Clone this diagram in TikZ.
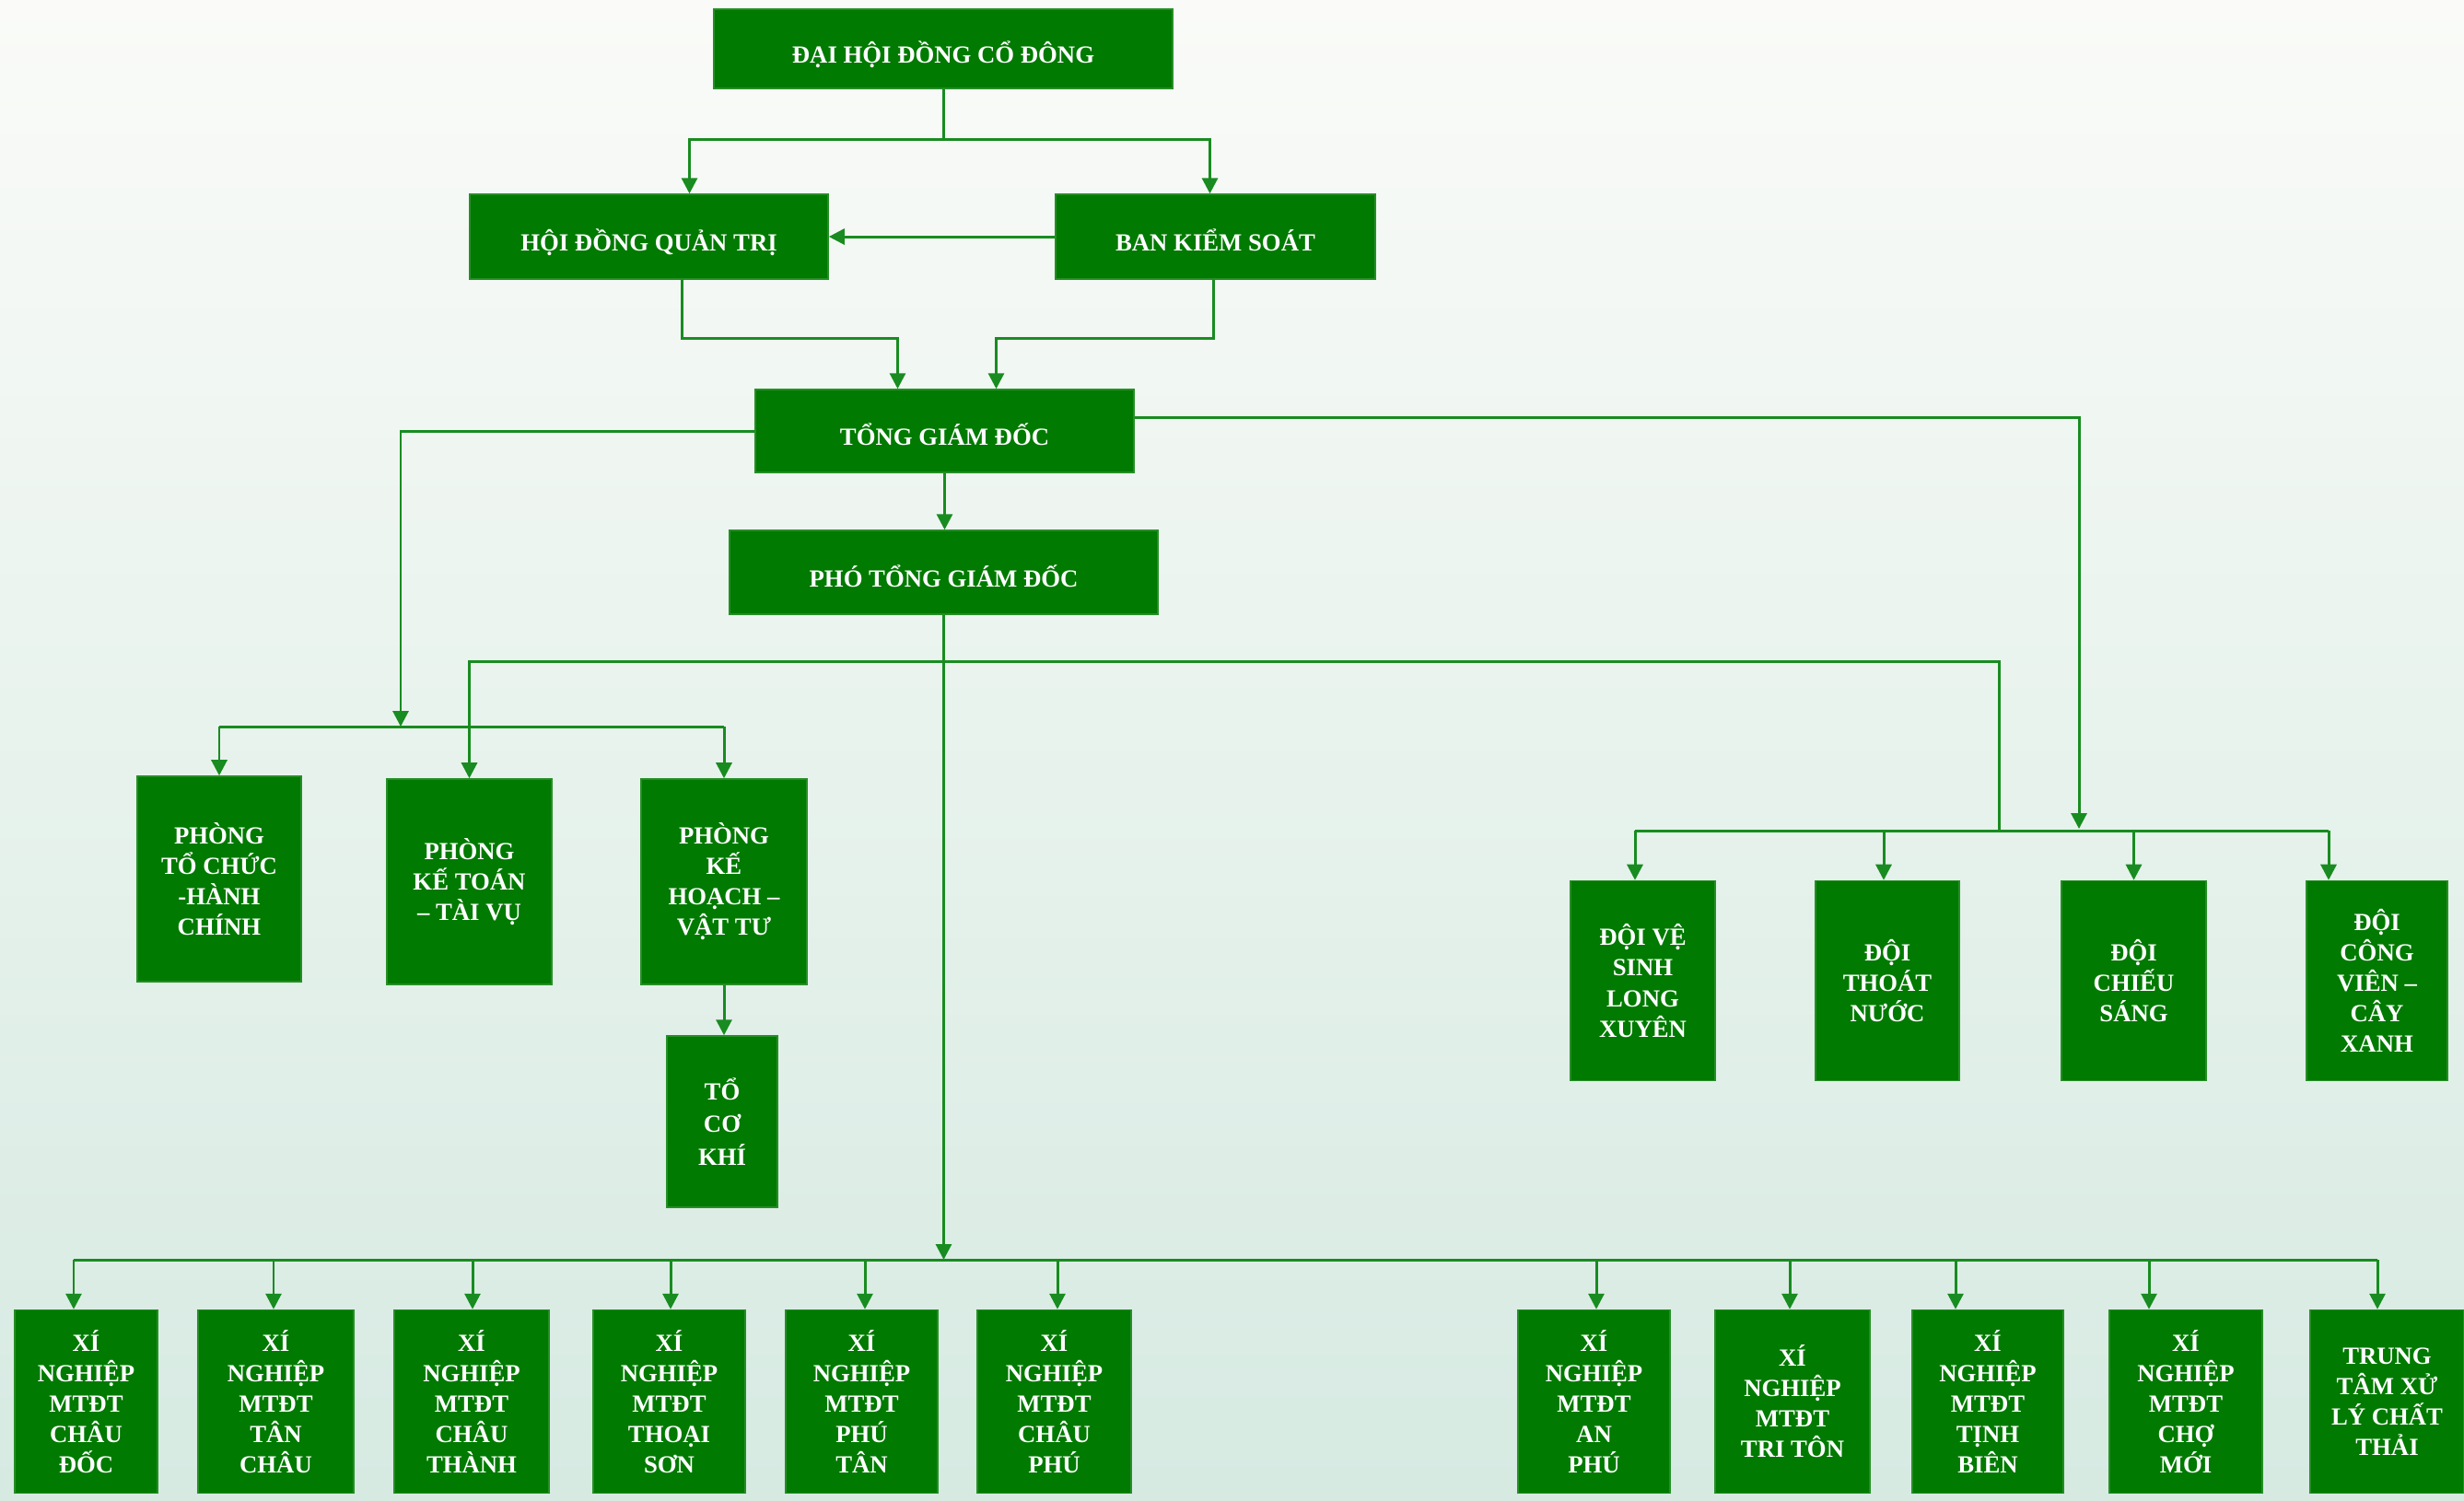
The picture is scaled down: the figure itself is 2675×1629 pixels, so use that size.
\documentclass[tikz,border=0pt]{standalone}
\usepackage{fontspec}
\setmainfont{Liberation Serif}
\usetikzlibrary{positioning}
\usetikzlibrary{calc}
\usetikzlibrary{arrows.meta}
\definecolor{boxgreen}{RGB}{0,122,0}
\definecolor{linegreen}{RGB}{24,140,32}
\definecolor{bgtop}{RGB}{250,251,248}
\definecolor{bgmid}{RGB}{236,243,238}
\definecolor{bgbot}{RGB}{214,234,226}

\begin{document}
\begin{tikzpicture}[
    x=0.01cm, y=-0.01cm,
    orgbox/.style={rectangle, fill=boxgreen, draw=boxgreen!85!white, line width=0.4pt,
        text=white, align=center, inner sep=0pt,
        font=\bfseries\fontsize{7.6}{9.4}\selectfont},
    headbox/.style={orgbox, text height=9pt, text depth=0pt},
    deptbox/.style={orgbox},
    wire/.style={draw=linegreen, line width=0.85pt},
    wirearrow/.style={wire, -{Triangle[length=0.17cm, width=0.17cm]}}
]
    \useasboundingbox (0,0) rectangle (2675,1629);
    \shade[top color=bgtop, middle color=bgmid, bottom color=bgbot] (0,0) rectangle (2675,1629);

    % --- Top levels ---
    \node[headbox, minimum width=4.98cm, minimum height=0.86cm] (dhdcd) at (1024,53) {ĐẠI HỘI ĐỒNG CỔ ĐÔNG};
    \node[headbox, minimum width=3.89cm, minimum height=0.92cm] (hdqt) at (704.5,257) {HỘI ĐỒNG QUẢN TRỊ};
    \node[headbox, minimum width=3.47cm, minimum height=0.92cm] (bks) at (1319.5,257) {BAN KIỂM SOÁT};
    \node[headbox, minimum width=4.11cm, minimum height=0.90cm] (tgd) at (1025.5,468) {TỔNG GIÁM ĐỐC};
    \node[headbox, minimum width=4.65cm, minimum height=0.91cm] (ptgd) at (1024.5,621.5) {PHÓ TỔNG GIÁM ĐỐC};

    \coordinate (j1) at (1024,151);
    \draw[wire] (dhdcd.south) -- (j1);
    \draw[wirearrow] (j1) -| ($(hdqt.north)+(44,0)$);
    \draw[wirearrow] (j1) -| ($(bks.north)+(-6,0)$);
    \draw[wirearrow] (bks.west) -- (hdqt.east);
    \draw[wirearrow] ($(hdqt.south)+(36,0)$) -- ++(0,64) -| ($(tgd.north)+(-51,0)$);
    \draw[wirearrow] ($(bks.south)+(-2,0)$) -- ++(0,64) -| ($(tgd.north)+(56,0)$);
    \draw[wirearrow] (tgd.south) -- (tgd.south |- ptgd.north);

    % --- Phong ban ---
    \node[deptbox, minimum width=1.78cm, minimum height=2.23cm] (tchc) at (238,954.5) {PHÒNG\\TỔ CHỨC\\-HÀNH\\CHÍNH};
    \node[deptbox, minimum width=1.79cm, minimum height=2.23cm] (ktv) at (509.5,957.5) {PHÒNG\\KẾ TOÁN\\– TÀI VỤ};
    \node[deptbox, minimum width=1.80cm, minimum height=2.23cm] (khvt) at (786,957.5) {PHÒNG\\KẾ\\HOẠCH –\\VẬT TƯ};
    \node[deptbox, minimum width=1.20cm, minimum height=1.86cm, font=\bfseries\fontsize{7.6}{10.2}\selectfont] (tck) at (784,1218) {TỔ\\CƠ\\KHÍ};

    \coordinate (pbus) at (0,789);
    \coordinate (pin) at (435,789);
    \draw[wirearrow] (tgd.west) -| (pin);
    \draw[wire] (tchc.north |- pbus) -- (khvt.north |- pbus);
    \draw[wirearrow] (tchc.north |- pbus) -- (tchc.north);
    \draw[wirearrow] (khvt.north |- pbus) -- (khvt.north);
    \draw[wirearrow] (khvt.south) -- (khvt.south |- tck.north);

    \coordinate (j2) at (1024.5,718);
    \draw[wirearrow] (j2) -| (ktv.north);

    % --- Doi ---
    \coordinate (dbus) at (0,902);
    \foreach \nm/\cx/\bw/\dx/\txt in {
        da/1783.5/1.57/-8.5/{ĐỘI VỆ\\SINH\\LONG\\XUYÊN},
        db/2049/1.56/-4/{ĐỘI\\THOÁT\\NƯỚC},
        dc/2316.5/1.57/0/{ĐỘI\\CHIẾU\\SÁNG},
        dd/2580.5/1.53/-52.5/{ĐỘI\\CÔNG\\VIÊN –\\CÂY\\XANH}} {
        \node[deptbox, minimum width=\bw cm, minimum height=2.17cm] (\nm) at (\cx,1065) {\txt};
        \coordinate (t\nm) at ($(\nm.north)+(\dx,0)$);
        \draw[wirearrow] (t\nm |- dbus) -- (t\nm);
    }
    \draw[wire] (tda |- dbus) -- (tdd |- dbus);
    \coordinate (dj) at (2170,902);
    \draw[wire] (j2) -| (dj);
    \coordinate (din) at (2257,900);
    \draw[wirearrow] ($(tgd.east)+(0,-15)$) -| (din);

    % --- Xi nghiep ---
    \coordinate (bbus) at (0,1368);
    \foreach \nm/\cx/\bw/\dx/\txt in {
        xa/93.5/1.55/-13.5/{XÍ\\NGHIỆP\\MTĐT\\CHÂU\\ĐỐC},
        xb/299.5/1.69/-2.5/{XÍ\\NGHIỆP\\MTĐT\\TÂN\\CHÂU},
        xc/512/1.68/1/{XÍ\\NGHIỆP\\MTĐT\\CHÂU\\THÀNH},
        xd/726.5/1.65/1.5/{XÍ\\NGHIỆP\\MTĐT\\THOẠI\\SƠN},
        xe/935.5/1.65/3.5/{XÍ\\NGHIỆP\\MTĐT\\PHÚ\\TÂN},
        xf/1144.5/1.67/3.5/{XÍ\\NGHIỆP\\MTĐT\\CHÂU\\PHÚ},
        xg/1730.5/1.65/2.5/{XÍ\\NGHIỆP\\MTĐT\\AN\\PHÚ},
        xh/1946/1.68/-3/{XÍ\\NGHIỆP\\MTĐT\\TRI TÔN},
        xi/2158/1.64/-35/{XÍ\\NGHIỆP\\MTĐT\\TỊNH\\BIÊN},
        xj/2373/1.66/-40/{XÍ\\NGHIỆP\\MTĐT\\CHỢ\\MỚI},
        xk/2591.5/1.67/-10.5/{TRUNG\\TÂM XỬ\\LÝ CHẤT\\THẢI}} {
        \node[deptbox, minimum width=\bw cm, minimum height=1.99cm] (\nm) at (\cx,1522) {\txt};
        \coordinate (t\nm) at ($(\nm.north)+(\dx,0)$);
        \draw[wirearrow] (t\nm |- bbus) -- (t\nm);
    }
    \draw[wire] (txa |- bbus) -- (txk |- bbus);
    \draw[wirearrow] (ptgd.south) -- (ptgd.south |- bbus);
\end{tikzpicture}
\end{document}
